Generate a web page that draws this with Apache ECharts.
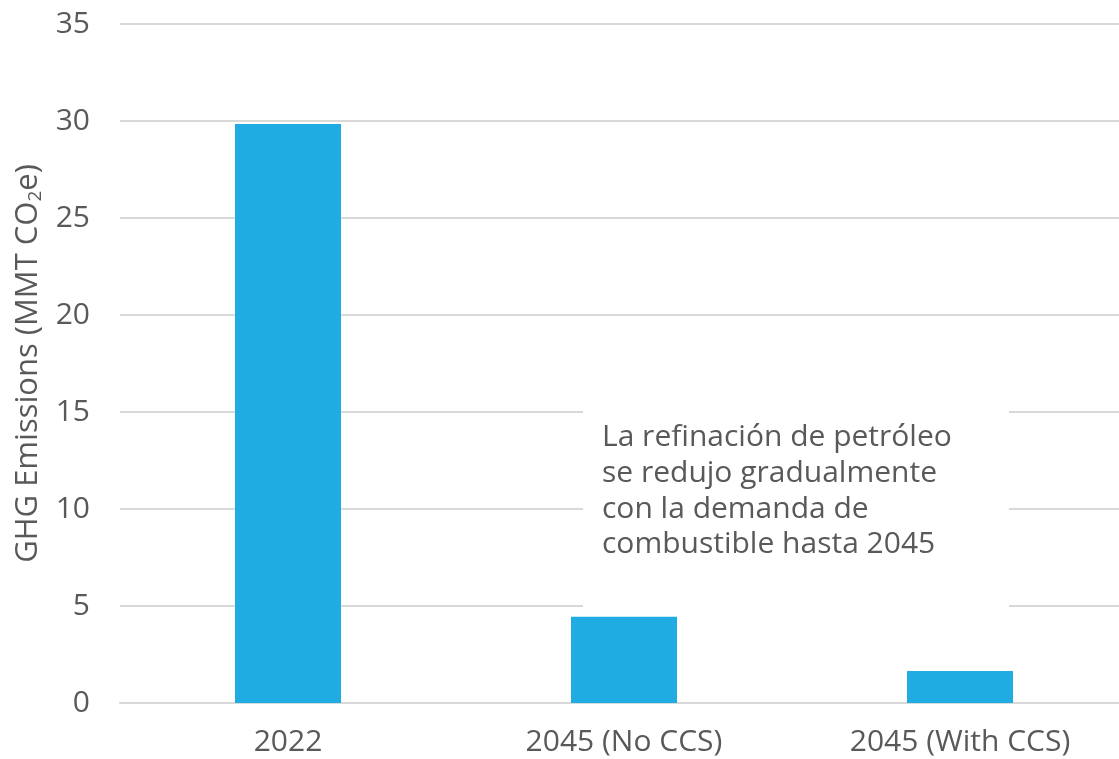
<!DOCTYPE html>
<html>
<head>
<meta charset="utf-8">
<script src="https://cdn.jsdelivr.net/npm/echarts@6/dist/echarts.min.js"></script>
<style>
html,body{margin:0;padding:0;background:#fff;}
#chart{width:1119px;height:759px;}
</style>
</head>
<body>
<div id="chart"></div>
<script>
const categories = ['2022', '2045 (No CCS)', '2045 (With CCS)'];
const emissions = [29.85, 4.45, 1.65];
const yTicks = { min: 0, max: 35, interval: 5 };
const annotation = ['La refinación de petróleo', 'se redujo gradualmente', 'con la demanda de', 'combustible hasta 2045'];

const FONT = '"Open Sans", "Noto Sans", sans-serif';
const TEXT = '#595959';
const chart = echarts.init(document.getElementById('chart'));
chart.setOption({
  animation: false,
  backgroundColor: '#ffffff',
  grid: { left: 120, top: 24, width: 1008, bottom: 56, containLabel: false, outerBoundsMode: 'none' },
  xAxis: {
    type: 'category',
    data: categories,
    axisLine: { show: true, lineStyle: { color: '#d9d9d9', width: 2 } },
    axisTick: { show: false },
    axisLabel: { color: TEXT, fontSize: 30, fontFamily: FONT, margin: 24 }
  },
  yAxis: {
    type: 'value',
    min: yTicks.min, max: yTicks.max, interval: yTicks.interval,
    name: '{main|GHG Emissions (MMT CO}{sub|2}{main|e)}',
    nameLocation: 'middle',
    nameGap: 73,
    nameRotate: 90,
    nameTextStyle: {
      color: TEXT, fontSize: 31, fontFamily: FONT,
      rich: {
        main: { fontSize: 31, color: TEXT, fontFamily: FONT, lineHeight: 36, verticalAlign: 'middle' },
        sub: { fontSize: 19, color: TEXT, fontFamily: FONT, lineHeight: 19, verticalAlign: 'middle', padding: [14, 0, 0, 0] }
      }
    },
    axisLine: { show: false },
    axisTick: { show: false },
    splitLine: { lineStyle: { color: '#d9d9d9', width: 2 } },
    axisLabel: { color: TEXT, fontSize: 30, fontFamily: FONT, margin: 30 }
  },
  series: [{
    type: 'bar',
    data: emissions,
    barWidth: 106,
    itemStyle: { color: '#1eace3' },
    z: 5
  }],
  graphic: [
    { type: 'rect', left: 583, top: 398, shape: { width: 426, height: 213 }, style: { fill: '#ffffff' }, z: 10 },
    { type: 'text', left: 602, top: 420, z: 11,
      style: { text: annotation.join('\n'), fill: TEXT, font: '30px ' + FONT, lineHeight: 35.7 } }
  ]
});
</script>
</body>
</html>
